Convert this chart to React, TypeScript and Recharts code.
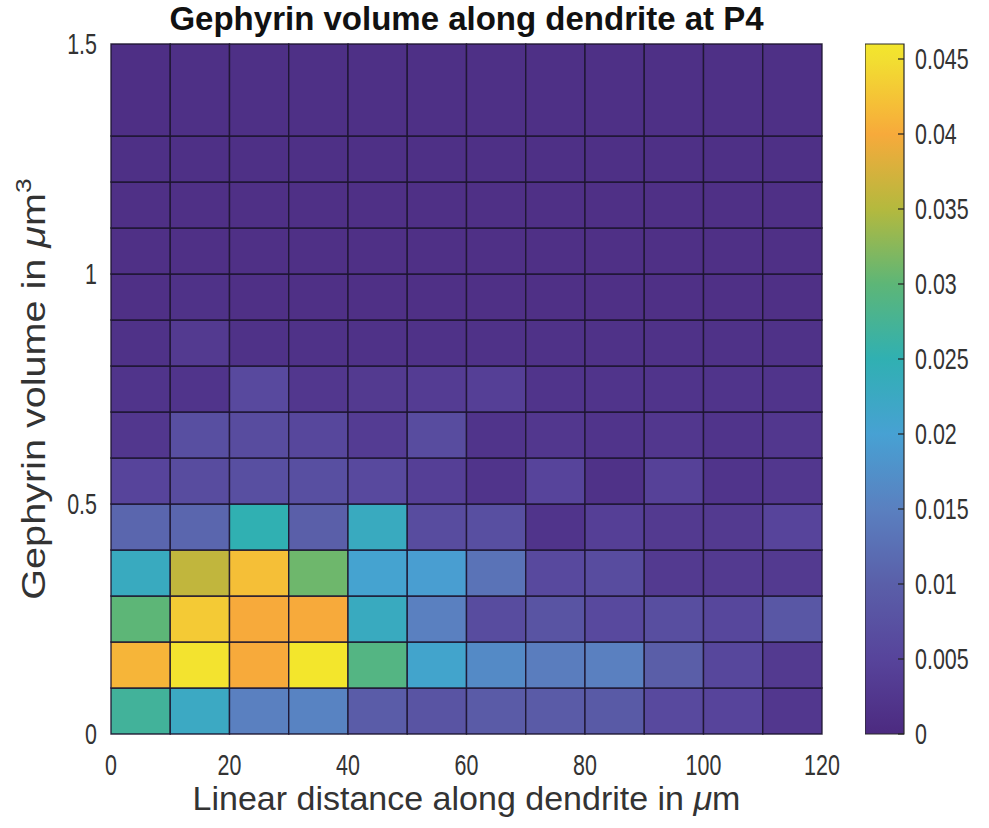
import React from 'react';
import { ComposedChart, XAxis, YAxis, ReferenceArea } from 'recharts';

// ---- data ----
const xEdges = [0, 10, 20, 30, 40, 50, 60, 70, 80, 90, 100, 110, 120];
const yEdges = [0, 0.1, 0.2, 0.3, 0.4, 0.5, 0.6, 0.7, 0.8, 0.9, 1.0, 1.1, 1.2, 1.3, 1.5];

// density per volume bin (rows, bottom to top), columns = distance bins 0..120 µm
const vol00_01 = [0.027, 0.0225, 0.015, 0.0155, 0.0095, 0.008, 0.0093, 0.0093, 0.009, 0.006, 0.005, 0.0025];
const vol01_02 = [0.041, 0.0455, 0.040, 0.046, 0.029, 0.021, 0.0165, 0.0145, 0.015, 0.0098, 0.0055, 0.003];
const vol02_03 = [0.030, 0.043, 0.040, 0.040, 0.023, 0.015, 0.0065, 0.008, 0.006, 0.0068, 0.0055, 0.0085];
const vol03_04 = [0.023, 0.036, 0.042, 0.031, 0.0205, 0.0195, 0.013, 0.006, 0.0065, 0.003, 0.003, 0.003];
const vol04_05 = [0.011, 0.011, 0.025, 0.010, 0.023, 0.0065, 0.007, 0.002, 0.004, 0.003, 0.003, 0.005];
const vol05_06 = [0.005, 0.0065, 0.007, 0.007, 0.006, 0.004, 0.002, 0.005, 0.0015, 0.0045, 0.002, 0.0025];
const vol06_07 = [0.0025, 0.007, 0.0065, 0.0055, 0.0035, 0.0065, 0.002, 0.0025, 0.002, 0.0025, 0.002, 0.0025];
const vol07_08 = [0.002, 0.002, 0.006, 0.0025, 0.003, 0.0035, 0.004, 0.002, 0.002, 0.002, 0.002, 0.002];
const vol08_09 = [0.0015, 0.003, 0.0015, 0.0015, 0.0015, 0.0015, 0.0015, 0.0015, 0.0015, 0.0015, 0.0015, 0.0015];
const vol09_10 = [0.0012, 0.0015, 0.0012, 0.0012, 0.0012, 0.0012, 0.0012, 0.0012, 0.0012, 0.0012, 0.0012, 0.0012];
const vol10_11 = [0.0012, 0.0012, 0.0012, 0.0012, 0.0012, 0.0012, 0.0012, 0.0012, 0.0012, 0.0012, 0.0012, 0.0012];
const vol11_12 = [0.0012, 0.0012, 0.0012, 0.0012, 0.0012, 0.0012, 0.0012, 0.0012, 0.0012, 0.0012, 0.0012, 0.0012];
const vol12_13 = [0.0011, 0.0011, 0.0011, 0.0011, 0.0011, 0.0011, 0.0011, 0.0011, 0.0011, 0.0011, 0.0011, 0.0011];
const vol13_15 = [0.001, 0.0011, 0.0011, 0.0011, 0.0011, 0.0011, 0.0011, 0.0011, 0.0011, 0.0011, 0.0011, 0.0011];

const densityRows = [
  vol00_01, vol01_02, vol02_03, vol03_04, vol04_05, vol05_06, vol06_07,
  vol07_08, vol08_09, vol09_10, vol10_11, vol11_12, vol12_13, vol13_15,
];

const xTicks = [0, 20, 40, 60, 80, 100, 120];
const yTicks = [0, 0.5, 1, 1.5];
const cbTicks = [0, 0.005, 0.01, 0.015, 0.02, 0.025, 0.03, 0.035, 0.04, 0.045];
const cbMax = 0.046;

// ---- colour map (parula-like, as rendered in the reference) ----
const cmapStops: [number, string][] = [
  [0.0, '#4c2a80'],
  [0.005, '#57449b'],
  [0.01, '#5a5fa9'],
  [0.015, '#5a80c0'],
  [0.02, '#47a1d3'],
  [0.025, '#30b0b2'],
  [0.03, '#5db677'],
  [0.035, '#b4b93e'],
  [0.04, '#f7aa3b'],
  [0.045, '#f2df31'],
  [0.046, '#f3e62c'],
];

function hexToRgb(h: string) {
  const n = parseInt(h.slice(1), 16);
  return [(n >> 16) & 255, (n >> 8) & 255, n & 255];
}
function colorFor(v: number) {
  const t = Math.max(0, Math.min(cbMax, v));
  for (let i = 0; i < cmapStops.length - 1; i++) {
    const [a, ca] = cmapStops[i];
    const [b, cb] = cmapStops[i + 1];
    if (t >= a && t <= b) {
      const f = (t - a) / (b - a);
      const A = hexToRgb(ca);
      const B = hexToRgb(cb);
      const c = A.map((x, k) => Math.round(x + (B[k] - x) * f));
      return `rgb(${c[0]},${c[1]},${c[2]})`;
    }
  }
  return cmapStops[cmapStops.length - 1][1];
}

const FONT = "'Liberation Sans', Arial, Helvetica, sans-serif";
const TXT = '#333333';
const TICK_FS = 29;
const TICK_SX = 0.74;

const XTick = (props: any) => {
  const { x, y, payload } = props;
  return (
    <text transform={`translate(${x},${y + 41}) scale(${TICK_SX},1)`} textAnchor="middle" fontSize={TICK_FS} fill={TXT} fontFamily={FONT}>
      {payload.value}
    </text>
  );
};

const YTick = (props: any) => {
  const { x, y, payload } = props;
  return (
    <text transform={`translate(${x - 14},${y + 10}) scale(${TICK_SX},1)`} textAnchor="end" fontSize={TICK_FS} fill={TXT} fontFamily={FONT}>
      {payload.value}
    </text>
  );
};

const CbTick = (props: any) => {
  const { x, y, payload } = props;
  return (
    <g>
      <line x1={x - 6} x2={x} y1={y} y2={y} stroke="#222" strokeWidth={1.2} />
      <text transform={`translate(${x + 11},${y + 10}) scale(${TICK_SX},1)`} textAnchor="start" fontSize={TICK_FS} fill={TXT} fontFamily={FONT}>
        {payload.value}
      </text>
    </g>
  );
};

const XLabel = (props: any) => {
  const vb = props.viewBox || {};
  const cx = vb.x + vb.width / 2;
  return (
    <text x={cx} y={vb.y + 76} textAnchor="middle" fontSize={34} fill={TXT} fontFamily={FONT}>
      Linear distance along dendrite in <tspan fontStyle="italic">μ</tspan>m
    </text>
  );
};

const YLabel = (props: any) => {
  const vb = props.viewBox || {};
  const cy = vb.y + vb.height / 2;
  const cx = 45;
  return (
    <text transform={`translate(${cx},${cy}) rotate(-90) scale(1.2,1)`} textAnchor="middle" fontSize={33} fill={TXT} fontFamily={FONT}>
      Gephyrin volume in <tspan fontStyle="italic">μ</tspan>m<tspan dy={-14} fontSize={22}>3</tspan>
    </text>
  );
};

const PLOT_LEFT = 111;
const PLOT_RIGHT = 822;
const PLOT_TOP = 44;
const PLOT_BOTTOM = 734;
const W = 989;
const H = 828;

const CB_LEFT = 865;
const CB_RIGHT = 904;

export default function App() {
  const cells: React.ReactNode[] = [];
  densityRows.forEach((row, r) => {
    row.forEach((v, c) => {
      cells.push(
        <ReferenceArea
          key={`c-${r}-${c}`}
          x1={xEdges[c]}
          x2={xEdges[c + 1]}
          y1={yEdges[r]}
          y2={yEdges[r + 1]}
          fill={colorFor(v)}
          fillOpacity={1}
          stroke="#1d1530"
          strokeOpacity={0.9}
          strokeWidth={1.4}
          ifOverflow="visible"
        />
      );
    });
  });

  const yAxisW = 60;
  const xAxisH = 40;

  return (
    <div style={{ position: 'absolute', left: 0, top: 0, width: W, height: H, background: '#fff' }}>
      <div
        style={{
          position: 'absolute',
          left: PLOT_LEFT - 40,
          width: PLOT_RIGHT - PLOT_LEFT + 80,
          top: 0,
          textAlign: 'center',
          fontFamily: FONT,
          fontWeight: 'bold',
          fontSize: 33,
          color: '#111',
          lineHeight: '38px',
        }}
      >
        Gephyrin volume along dendrite at P4
      </div>

      <div style={{ position: 'absolute', left: 0, top: 0 }}>
        <ComposedChart
          width={W}
          height={H}
          margin={{ top: PLOT_TOP, right: W - PLOT_RIGHT, bottom: H - PLOT_BOTTOM - xAxisH, left: PLOT_LEFT - yAxisW }}
        >
          <XAxis
            type="number"
            dataKey="x"
            domain={[0, 120]}
            ticks={xTicks}
            allowDataOverflow
            height={xAxisH}
            tickLine={false}
            axisLine={false}
            tickSize={0}
            tickMargin={0}
            tick={<XTick />}
            interval={0}
            label={<XLabel />}
          />
          <YAxis
            type="number"
            dataKey="y"
            domain={[0, 1.5]}
            ticks={yTicks}
            allowDataOverflow
            width={yAxisW}
            tickLine={false}
            axisLine={false}
            tickSize={0}
            tickMargin={0}
            tick={<YTick />}
            interval={0}
            label={<YLabel />}
          />
          {cells}
        </ComposedChart>
      </div>

      <div style={{ position: 'absolute', left: CB_LEFT, top: 0 }}>
        <ComposedChart
          width={W - CB_LEFT}
          height={H}
          margin={{ top: PLOT_TOP, right: 0, bottom: H - PLOT_BOTTOM, left: 0 }}
        >
          <defs>
            <linearGradient id="cbGrad" x1="0" y1="1" x2="0" y2="0">
              {cmapStops.map(([v, col]) => (
                <stop key={v} offset={`${(v / cbMax) * 100}%`} stopColor={col} />
              ))}
            </linearGradient>
          </defs>
          <XAxis type="number" dataKey="x" domain={[0, 1]} hide allowDataOverflow height={0} />
          <YAxis
            type="number"
            dataKey="y"
            orientation="right"
            domain={[0, cbMax]}
            ticks={cbTicks}
            allowDataOverflow
            width={W - CB_LEFT - (CB_RIGHT - CB_LEFT)}
            tickLine={false}
            axisLine={false}
            tickSize={0}
            tickMargin={0}
            tick={<CbTick />}
            interval={0}
          />
          <ReferenceArea
            x1={0}
            x2={1}
            y1={0}
            y2={cbMax}
            fill="url(#cbGrad)"
            fillOpacity={1}
            stroke="#2a2a2a"
            strokeWidth={1.2}
            ifOverflow="visible"
          />
        </ComposedChart>
      </div>
    </div>
  );
}
